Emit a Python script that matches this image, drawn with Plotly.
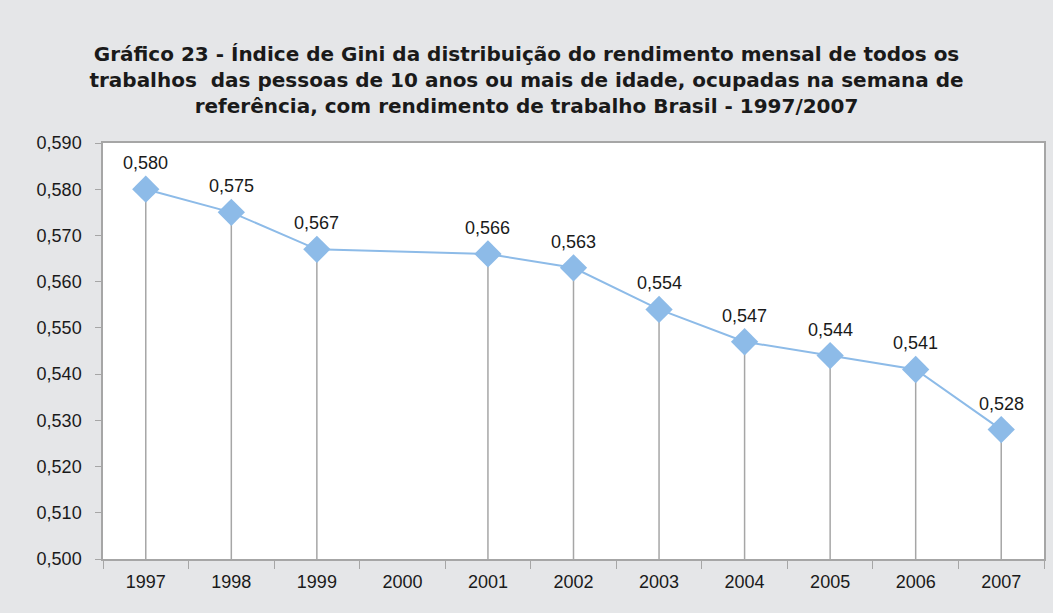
import plotly.graph_objects as go

anos = ["1997", "1998", "1999", "2000", "2001", "2002", "2003", "2004", "2005", "2006", "2007"]
gini = [0.580, 0.575, 0.567, None, 0.566, 0.563, 0.554, 0.547, 0.544, 0.541, 0.528]

base = 0.500
cinza = "#a6a6a6"
azul = "#8dbbe8"

# drop lines down to the axis via error bars
queda = [None if v is None else v - base for v in gini]

fig = go.Figure()

fig.add_trace(go.Scatter(
    x=anos, y=gini,
    mode="lines+markers",
    connectgaps=True,
    line=dict(color=azul, width=2),
    marker=dict(symbol="diamond", size=21, color=azul),
    error_y=dict(type="data", symmetric=False, array=[0] * len(gini),
                 arrayminus=queda, width=0, color=cinza, thickness=1.5),
    cliponaxis=False,
    showlegend=False,
))

# value labels (x given as category index)
for i, v in enumerate(gini):
    if v is None:
        continue
    fig.add_annotation(x=i, y=v, text=f"{v:.3f}".replace(".", ","),
                       showarrow=False, yshift=26,
                       font=dict(size=18, color="#1a1a1a"))

fig.update_layout(
    width=1053, height=613,
    paper_bgcolor="#e5e6e8",
    plot_bgcolor="white",
    separators=",.",
    font=dict(family="Liberation Sans, Arial, sans-serif", size=18, color="#1a1a1a"),
    margin=dict(l=103, r=7, t=143, b=54),
    title=dict(
        text="<b>Gráfico 23 - Índice de Gini da distribuição do rendimento mensal de todos os<br>"
             "trabalhos  das pessoas de 10 anos ou mais de idade, ocupadas na semana de<br>"
             "referência, com rendimento de trabalho Brasil - 1997/2007</b>",
        x=0.5, xanchor="center", y=0.90, yanchor="middle",
        font=dict(family="DejaVu Sans, sans-serif", size=20, color="#1a1a1a"),
    ),
)

fig.update_xaxes(
    type="category",
    range=[-0.5, len(anos) - 0.5],
    showgrid=False,
    showline=True, linecolor=cinza, linewidth=1.5, mirror=True,
    ticks="outside", tickson="boundaries", ticklen=8, tickcolor=cinza,
    ticklabelstandoff=6,
    tickfont=dict(size=18),
)

fig.update_yaxes(
    range=[0.500, 0.590],
    dtick=0.010,
    tickformat=".3f",
    showgrid=False, zeroline=False,
    showline=True, linecolor=cinza, linewidth=1.5, mirror=True,
    ticks="outside", ticklen=6, tickcolor=cinza, ticklabelstandoff=10,
    tickfont=dict(size=18),
)

fig.write_html("out.html", config={"displayModeBar": False},
               post_script="document.body.style.margin='0';")
